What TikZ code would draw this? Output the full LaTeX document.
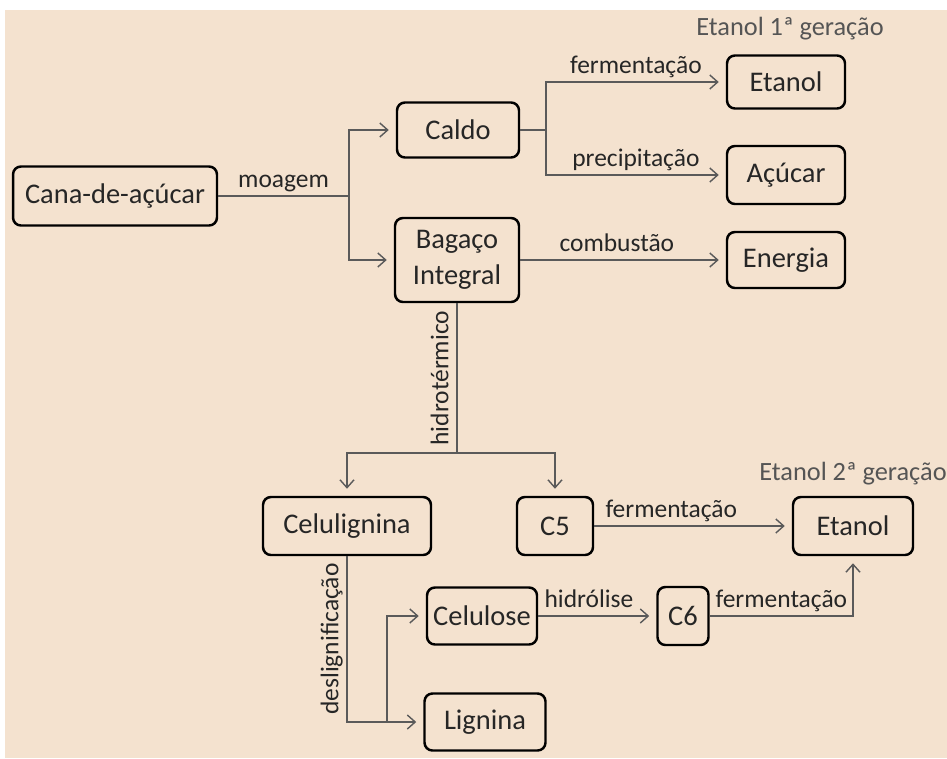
\documentclass[tikz,border=0pt]{standalone}
\usepackage{fontspec}
\setmainfont{Carlito}
\usetikzlibrary{positioning,arrows.meta}

\definecolor{canebg}{HTML}{F4E2CF}
\definecolor{flowgray}{HTML}{5A5A5A}
\definecolor{inkdark}{HTML}{262626}
\definecolor{notegray}{HTML}{555555}

\tikzset{
  stage/.style={draw=black, line width=1.4pt, rounded corners=4.5pt, text=inkdark,
                inner sep=2pt, align=center, font=\fontsize{16.2}{20.4}\selectfont},
  link/.style={draw=flowgray, line width=0.8pt},
  flow/.style={link, -{Straight Barb[length=4.5pt,width=8pt]}, shorten >=4pt},
  proc/.style={text=inkdark, font=\fontsize{14.5}{17}\selectfont, inner sep=2pt, text depth=.25em},
  gen/.style={text=notegray, font=\fontsize{15}{18}\selectfont, inner sep=1pt},
}

\begin{document}
\begin{tikzpicture}[x=0.02cm, y=-0.02cm]

    % Background
    \useasboundingbox (0,0) rectangle (947,758);
    \fill[canebg] (5,10) rectangle (947,758);

    % Define nodes
    \node[stage, minimum width=4.08cm, minimum height=1.18cm] (cana)        at (115,196) {Cana-de-açúcar};
    \node[stage, minimum width=2.44cm, minimum height=1.10cm] (caldo)       at (458,130) {Caldo};
    \node[stage, minimum width=2.48cm, minimum height=1.68cm] (bagaco)      at (457,260) {Bagaço\\Integral};
    \node[stage, minimum width=2.36cm, minimum height=1.06cm] (etanolA)     at (786,82)  {Etanol};
    \node[stage, minimum width=2.36cm, minimum height=1.16cm] (acucar)      at (786,175) {Açúcar};
    \node[stage, minimum width=2.36cm, minimum height=1.12cm] (energia)     at (786,260) {Energia};
    \node[stage, minimum width=3.36cm, minimum height=1.16cm] (celulignina) at (347,526) {Celulignina};
    \node[stage, minimum width=1.52cm, minimum height=1.16cm] (c5)          at (555,526) {C5};
    \node[stage, minimum width=2.40cm, minimum height=1.16cm] (etanolB)     at (853,526) {Etanol};
    \node[stage, minimum width=2.20cm, minimum height=1.14cm] (celulose)    at (482,616) {Celulose};
    \node[stage, minimum width=1.02cm, minimum height=1.16cm] (c6)          at (683,616) {C6};
    \node[stage, minimum width=2.42cm, minimum height=1.14cm] (lignina)     at (485,722) {Lignina};

    \node[gen, above=7pt of etanolA, xshift=0.08cm] (genA) {Etanol 1ª geração};
    \node[gen, above=5pt of etanolB]                (genB) {Etanol 2ª geração};

    % Branch points
    \coordinate (split)      at (349,196);
    \coordinate (caldosplit) at (546,130);
    \coordinate (hidrosplit) at (457,453);
    \coordinate (ligsplit)   at (387,722);

    % Connect the nodes
    \draw[link] (cana) -- node[proc, above] (moagem) {moagem} (split);
    \draw[flow] (split) |- (caldo);
    \draw[flow] (split) |- (bagaco);

    \draw[link] (caldo) -- (caldosplit);
    \draw[flow] (caldosplit) |- node[proc, above, pos=.75] (fermA) {fermentação} (etanolA);
    \draw[flow] (caldosplit) |- node[proc, above, pos=.75] (precip) {precipitação} (acucar);
    \draw[flow] (bagaco) -- node[proc, above, pos=.47] (combust) {combustão} (energia);

    \draw[link] (bagaco) -- node[proc, rotate=90, anchor=south] (hidro) {hidrotérmico} (hidrosplit);
    \draw[flow] (hidrosplit) -| (celulignina);
    \draw[flow] (hidrosplit) -| (c5);
    \draw[flow] (c5) -- node[proc, above, pos=.39] (fermB) {fermentação} (etanolB);

    \draw[flow] (celulignina) |- node[proc, rotate=90, anchor=south, pos=.25] (deslig) {deslignificação} (lignina);
    \draw[flow] (ligsplit) |- (celulose);
    \draw[flow] (celulose) -- node[proc, above, pos=.43] (hidrol) {hidrólise} (c6);
    \draw[flow] (c6) -| node[proc, above, pos=.25] (fermC) {fermentação} (etanolB);

\end{tikzpicture}
\end{document}
